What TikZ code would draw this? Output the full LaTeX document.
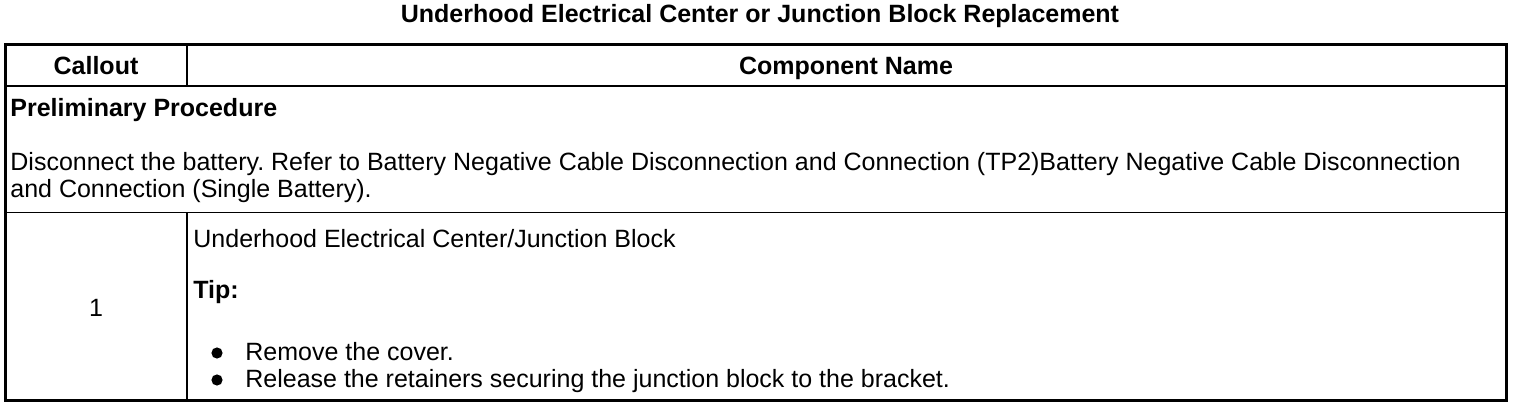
\documentclass[tikz,border=0pt]{standalone}
\usepackage{fontspec}
\setmainfont{Liberation Sans}
\frenchspacing

\begin{document}
\begin{tikzpicture}[x=0.5pt, y=-0.5pt]

	\tikzstyle{cell_text} = [inner sep=0pt, anchor=base west, font=\fontsize{12.5}{14}\selectfont]
	\tikzstyle{cell_head} = [inner sep=0pt, anchor=base, font=\fontsize{12.5}{14}\selectfont\bfseries]
	\tikzstyle{dot_mark}  = [circle, fill=black, inner sep=0pt, minimum size=5.6pt]

	\useasboundingbox (0,0) rectangle (1520,406);

%------------------------------------------------------------
	\coordinate (tl) at (5,45);
	\coordinate (br) at (1506,400);
	\coordinate (c0) at (187,45);
	\coordinate (c1) at (187,86);
	\coordinate (c2) at (187,213);
	\coordinate (c3) at (187,400);
	\coordinate (h0) at (5,86);
	\coordinate (h1) at (1506,86);
	\coordinate (r0) at (5,213);
	\coordinate (r1) at (1506,213);

	\draw[line width=1.5pt] (tl) rectangle (br);
	\draw[line width=1.2pt] (h0) -- (h1);
	\draw[line width=0.5pt] (r0) -- (r1);
	\draw[line width=0.8pt] (c0) -- (c1);
	\draw[line width=0.8pt] (c2) -- (c3);

%------------------------------------------------------------
	\node[cell_head] (title) at (760,23) {Underhood Electrical Center or Junction Block Replacement};
	\node[cell_head] (callout) at (96,75) {Callout};
	\node[cell_head] (compname) at (846,75) {Component Name};

%------------------------------------------------------------
	\node[cell_text, font=\fontsize{12.5}{14}\selectfont\bfseries] (prelim) at (10,117) {Preliminary Procedure};
	\node[cell_text] (disc1) at (10,171) {Disconnect the battery. Refer to Battery Negative Cable Disconnection and Connection (TP2)Battery Negative Cable Disconnection};
	\node[cell_text] (disc2) at (10,198) {and Connection (Single Battery).};

%------------------------------------------------------------
	\node[cell_text, anchor=base] (num1) at (96,316) {1};
	\node[cell_text] (comp1) at (193,248) {Underhood Electrical Center/Junction Block};
	\node[cell_text, font=\fontsize{12.5}{14}\selectfont\bfseries] (tip1) at (193,299) {Tip:};

	\node[dot_mark] (b1) at (217,353) {};
	\node[dot_mark] (b2) at (217,380) {};
	\node[cell_text] (step1) at (245,360) {Remove the cover.};
	\node[cell_text] (step2) at (245,387) {Release the retainers securing the junction block to the bracket.};

\end{tikzpicture}
\end{document}
